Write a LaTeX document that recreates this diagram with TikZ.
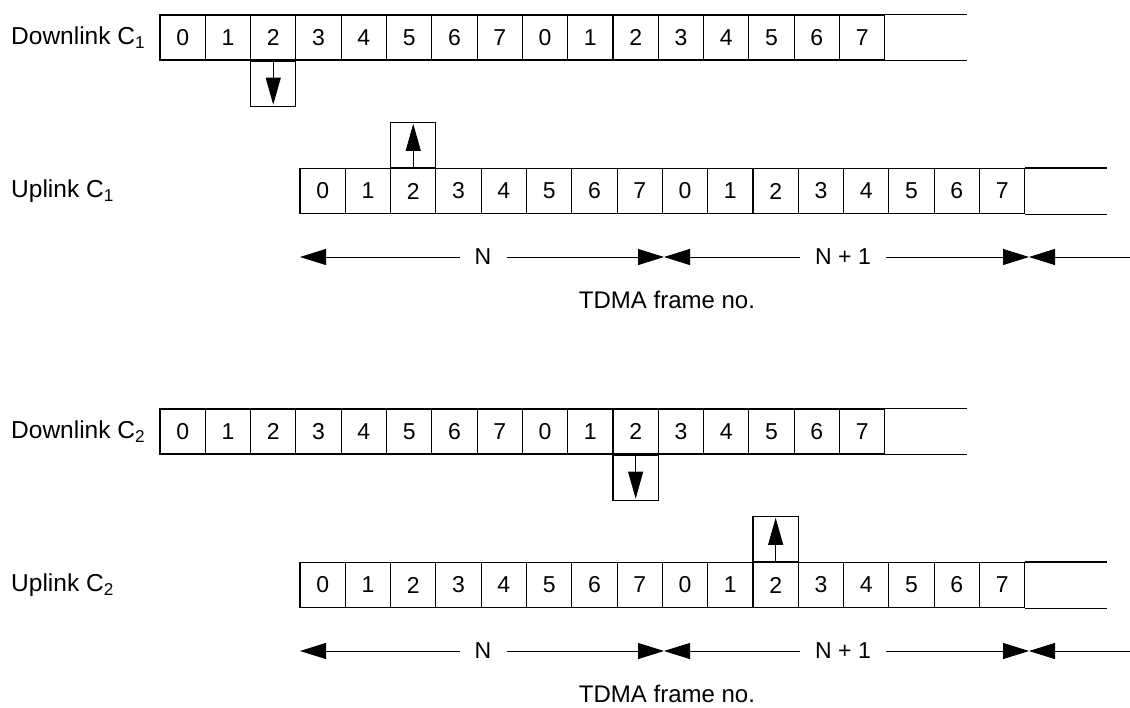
\documentclass[tikz,border=0pt]{standalone}
\usepackage{fontspec}
\setmainfont{Liberation Sans}
\usetikzlibrary{arrows.meta,positioning}

\tikzset{
  slot/.style={draw, line width=1.1pt, minimum width=45.3pt, minimum height=45pt,
    inner sep=0pt, font=\fontsize{23}{27}\selectfont},
  chan/.style={anchor=west, inner sep=0pt, font=\fontsize{24.5}{28}\selectfont},
  framelbl/.style={inner xsep=15pt, inner ysep=2pt, font=\fontsize{23}{27}\selectfont},
  caption/.style={anchor=base, inner sep=0pt, font=\fontsize{24}{28}\selectfont},
  tri/.style={line width=1pt, -{Triangle[length=26pt,width=16pt]}},
  dirtri/.style={line width=1pt, -{Triangle[length=27pt,width=15pt]}},
}

\begin{document}
\begin{tikzpicture}[x=1pt, y=-1pt]
    \useasboundingbox (0,0) rectangle (1130,707);

    % two channel pairs, one below the other
    \foreach \s/\c in {0/1, 394/2}{
      \node[chan] (dl\c) at (11, 37.5+\s) {Downlink C\textsubscript{\c}};
      \node[chan] (ul\c) at (11, 191+\s)  {Uplink C\textsubscript{\c}};
      \foreach \i in {0,...,15}{
        \pgfmathtruncatemacro\k{mod(\i,8)}
        \node[slot] (d\c-\i) at ({160+45.3*(\i+0.5)}, 37.5+\s) {\k};
        \node[slot] (u\c-\i) at ({300+45.3*(\i+0.5)}, 191+\s)  {\k};
      }
      \draw[line width=1.1pt] (d\c-15.north east) -- ++(82,0);
      \draw[line width=1.1pt] (d\c-15.south east) -- ++(82,0);
      \draw[line width=1.1pt] (u\c-15.north east) -- ++(82,0);
      \draw[line width=1.1pt] (u\c-15.south east) -- ++(82,0);

      % frame numbers
      \coordinate (f\c-0) at (300, 257+\s);
      \coordinate (f\c-1) at (664, 257+\s);
      \coordinate (f\c-2) at (1029, 257+\s);
      \coordinate (f\c-e) at (1130, 257+\s);
      \node[framelbl] (n\c-a) at (483, 257+\s) {N};
      \node[framelbl] (n\c-b) at (843, 257+\s) {N + 1};
      \draw[tri] (n\c-a) -- (f\c-0);
      \draw[tri] (n\c-a) -- (f\c-1);
      \draw[tri] (n\c-b) -- (f\c-1);
      \draw[tri] (n\c-b) -- (f\c-2);
      \draw[tri] (f\c-e) -- (f\c-2);
      \node[caption] (t\c) at (667, 308+\s) {TDMA frame no.};
    }

    % slot 2 of downlink C1 and of uplink C1
    \node[slot, below=0pt of d1-2] (d1-box) {};
    \draw[dirtri] (d1-box.north) -- ([yshift=2pt]d1-box.south);
    \node[slot, above=0pt of u1-2] (u1-box) {};
    \draw[dirtri] (u1-box.south) -- ([yshift=-2pt]u1-box.north);

    % slot 2 of the next frame for C2
    \node[slot, below=0pt of d2-10] (d2-box) {};
    \draw[dirtri] (d2-box.north) -- ([yshift=2pt]d2-box.south);
    \node[slot, above=0pt of u2-10] (u2-box) {};
    \draw[dirtri] (u2-box.south) -- ([yshift=-2pt]u2-box.north);
\end{tikzpicture}
\end{document}
